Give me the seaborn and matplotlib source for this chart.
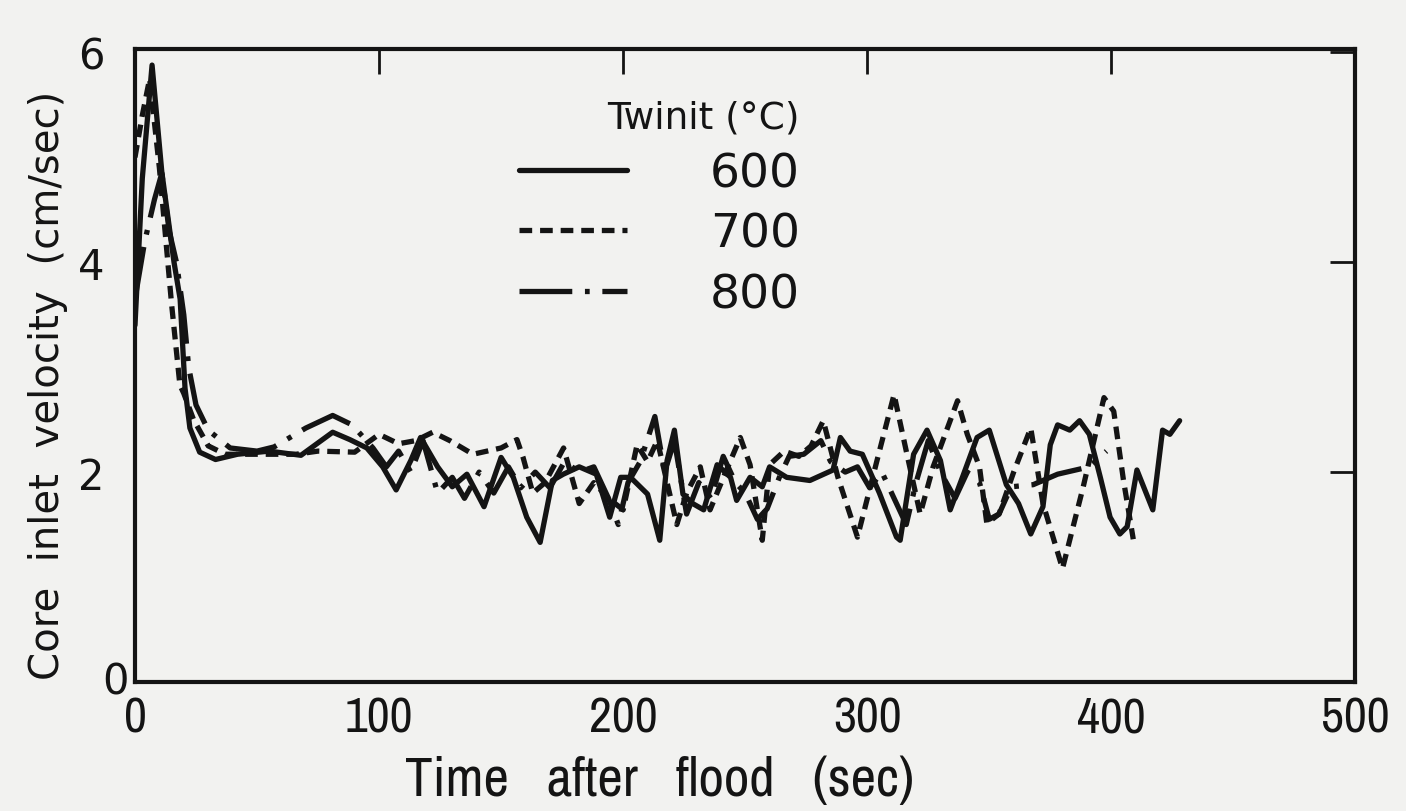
import matplotlib
matplotlib.use("Agg")
import matplotlib.pyplot as plt
from matplotlib import font_manager
from matplotlib.transforms import blended_transform_factory
import pandas as pd
import seaborn as sns

# Core inlet velocity traces for three initial wall temperatures
t600 = [0, 3, 7, 11, 16, 18.5, 20.5, 22.5, 26.5, 33, 42, 55, 68, 81, 88, 95,
        101.5, 107, 113, 117, 124, 130, 136, 143, 150, 155, 160.5, 166, 171,
        175.5, 182, 189, 194.5, 199, 203, 210, 215, 218, 221, 224.5, 228.5,
        233, 238.5, 244, 246.5, 252, 257, 260, 267, 276.5, 286, 289, 293, 298,
        305, 312, 313.5, 319, 324.5, 330, 334, 339, 345, 350, 357, 362, 367,
        372, 375, 378, 383, 387, 391, 395.5, 399.5, 403.5, 406.5, 410.5, 417,
        421, 424, 428]
v600 = [3.4, 4.8, 5.88, 4.86, 4.0, 3.65, 2.8, 2.42, 2.19, 2.12, 2.17, 2.2,
        2.16, 2.38, 2.31, 2.23, 2.05, 1.83, 2.11, 2.33, 2.05, 1.86, 1.98, 1.67,
        2.14, 1.95, 1.57, 1.33, 1.92, 1.98, 2.05, 1.98, 1.57, 1.95, 1.95, 1.79,
        1.35, 2.11, 2.4, 1.79, 1.70, 1.64, 2.07, 1.95, 1.73, 1.95, 1.86, 2.05,
        1.95, 1.92, 2.02, 2.33, 2.2, 2.17, 1.8, 1.38, 1.35, 2.17, 2.4, 2.11,
        1.64, 1.95, 2.33, 2.4, 1.88, 1.7, 1.41, 1.67, 2.26, 2.45, 2.4, 2.49,
        2.36, 1.95, 1.57, 1.41, 1.48, 2.02, 1.64, 2.4, 2.36, 2.49]

t700 = [0, 3, 6, 10, 15, 18.4, 20, 24, 30, 37, 50, 66, 75, 90, 100, 108, 115,
        122, 129, 138.5, 150, 156.5, 159, 163, 168, 175.6, 182, 188, 194, 200,
        205.7, 210, 214, 218, 222, 226, 231.6, 235.6, 242, 248, 252, 257, 260,
        266, 272, 277, 282, 288, 296, 304, 311, 316, 321.7, 327, 337, 341, 346,
        349, 354, 360, 367, 372, 380, 388.5, 397, 401, 405, 409]
v700 = [5.0, 5.4, 5.75, 4.9, 3.6, 2.83, 2.75, 2.5, 2.25, 2.17, 2.17, 2.17, 2.2,
        2.19, 2.36, 2.27, 2.3, 2.38, 2.3, 2.17, 2.23, 2.31, 2.14, 1.8, 1.9,
        2.23, 1.7, 1.9, 1.75, 1.64, 2.26, 2.1, 2.3, 1.9, 1.5, 1.8, 2.05, 1.64,
        2.0, 2.33, 2.07, 1.35, 2.07, 2.2, 2.15, 2.25, 2.49, 1.95, 1.38, 2.11,
        2.74, 2.2, 1.6, 2.05, 2.68, 2.36, 2.05, 1.51, 1.6, 2.0, 2.42, 1.7, 1.08,
        1.86, 2.71, 2.58, 1.92, 1.36]

t800 = [0, 4, 8, 11, 14, 17, 20, 22, 25, 30, 39, 50, 57, 70, 81, 89, 97.5,
        103, 108, 113, 118, 124, 130, 135, 141, 147, 153, 158, 164, 170, 176,
        182, 188, 194, 198, 202, 207, 213, 217, 221, 226, 231, 236, 241, 246,
        250, 255, 259, 264, 268, 274, 281, 285, 291, 296, 301, 306, 311, 316,
        320, 325, 330, 336, 341, 346, 350, 354, 359, 368, 378, 391, 398]
v800 = [3.65, 4.2, 4.6, 4.85, 4.3, 4.0, 3.5, 3.0, 2.64, 2.4, 2.23, 2.2, 2.24,
        2.42, 2.54, 2.45, 2.23, 2.05, 2.2, 2.0, 2.3, 1.8, 1.95, 1.75, 2.0, 1.8,
        2.05, 1.85, 2.0, 1.85, 2.1, 2.0, 2.05, 1.75, 1.5, 1.9, 2.1, 2.53, 2.0,
        2.3, 1.6, 1.9, 1.75, 2.15, 1.9, 1.8, 1.55, 1.65, 1.95, 2.15, 2.17, 2.3,
        2.1, 2.0, 2.05, 1.85, 2.0, 1.75, 1.5, 1.9, 2.3, 2.0, 1.75, 2.0, 1.9,
        1.55, 1.6, 1.86, 1.88, 1.98, 2.05, 2.2]

series_names = ["600", "700", "800"]
x_ticks = [0, 100, 200, 300, 400, 500]
y_ticks = [0, 2, 4, 6]
legend_title = "Twinit (°C)"
x_label = "Time   after   flood   (sec)"
y_label = "Core  inlet  velocity  (cm/sec)"

frames = []
for name, t, v in zip(series_names, [t600, t700, t800], [v600, v700, v800]):
    frames.append(pd.DataFrame({"time": t, "velocity": v, "Twinit": name}))
df = pd.concat(frames, ignore_index=True)

sns.set_theme(style="white")
plt.rcParams["font.family"] = ["DejaVu Sans"]

# Pick a narrow face for the time axis if one is installed
narrow = None
for f in font_manager.fontManager.ttflist:
    if any(k in f.name for k in ("Narrow", "Condensed")):
        narrow = f.name
        break
narrow_kw = {"family": [narrow, "DejaVu Sans"]} if narrow else {"family": ["DejaVu Sans"]}

ink = "#141414"
paper = "#f2f2f0"

fig = plt.figure(figsize=(14.06, 8.12), dpi=100, facecolor=paper)
ax = fig.add_axes([0.096, 0.159, 0.868, 0.779])
ax.set_facecolor(paper)

dash_map = {"600": "", "700": (2.4, 1.5), "800": (10, 2.4, 0.9, 2.4)}
sns.lineplot(data=df, x="time", y="velocity", hue="Twinit", style="Twinit",
             hue_order=series_names, style_order=series_names,
             palette={n: ink for n in series_names}, dashes=dash_map,
             estimator=None, sort=False, linewidth=3.8, legend=False, ax=ax)

ax.set_xlim(x_ticks[0], x_ticks[-1])
ax.set_ylim(y_ticks[0], 6.03)
ax.set_xticks(x_ticks)
ax.set_yticks(y_ticks)
ax.set_xticklabels([str(v) for v in x_ticks], fontsize=36,
                   stretch="condensed", **narrow_kw)
ax.set_yticklabels(["", "2", "4", "6"], fontsize=30)
ax.tick_params(direction="in", length=18, width=2, top=True, right=True,
               colors=ink, labelcolor=ink)
ax.tick_params(axis="y", pad=22)
ax.tick_params(axis="x", pad=10)
trans = blended_transform_factory(ax.transAxes, ax.transData)
ax.text(-0.005, y_ticks[0], str(y_ticks[0]), transform=trans, ha="right",
        va="center", fontsize=30, color=ink)

for s in ax.spines.values():
    s.set_linewidth(3.0)
    s.set_color(ink)

ax.set_xlabel(x_label, fontsize=40, color=ink, stretch="condensed", **narrow_kw)
ax.xaxis.set_label_coords(0.43, -0.115)
ax.set_ylabel(y_label, fontsize=29, color=ink)
ax.yaxis.set_label_coords(-0.055, 0.47)

leg = ax.legend(handles=list(ax.lines), labels=series_names, title=legend_title,
                loc="upper left", bbox_to_anchor=(0.295, 0.958), frameon=False,
                fontsize=34, title_fontsize=27, handlelength=2.3,
                handletextpad=1.75, labelspacing=0.33, borderpad=0,
                alignment="right")
for txt in leg.get_texts():
    txt.set_color(ink)
leg.get_title().set_color(ink)

fig.savefig("out.png", dpi=100, facecolor=paper)
